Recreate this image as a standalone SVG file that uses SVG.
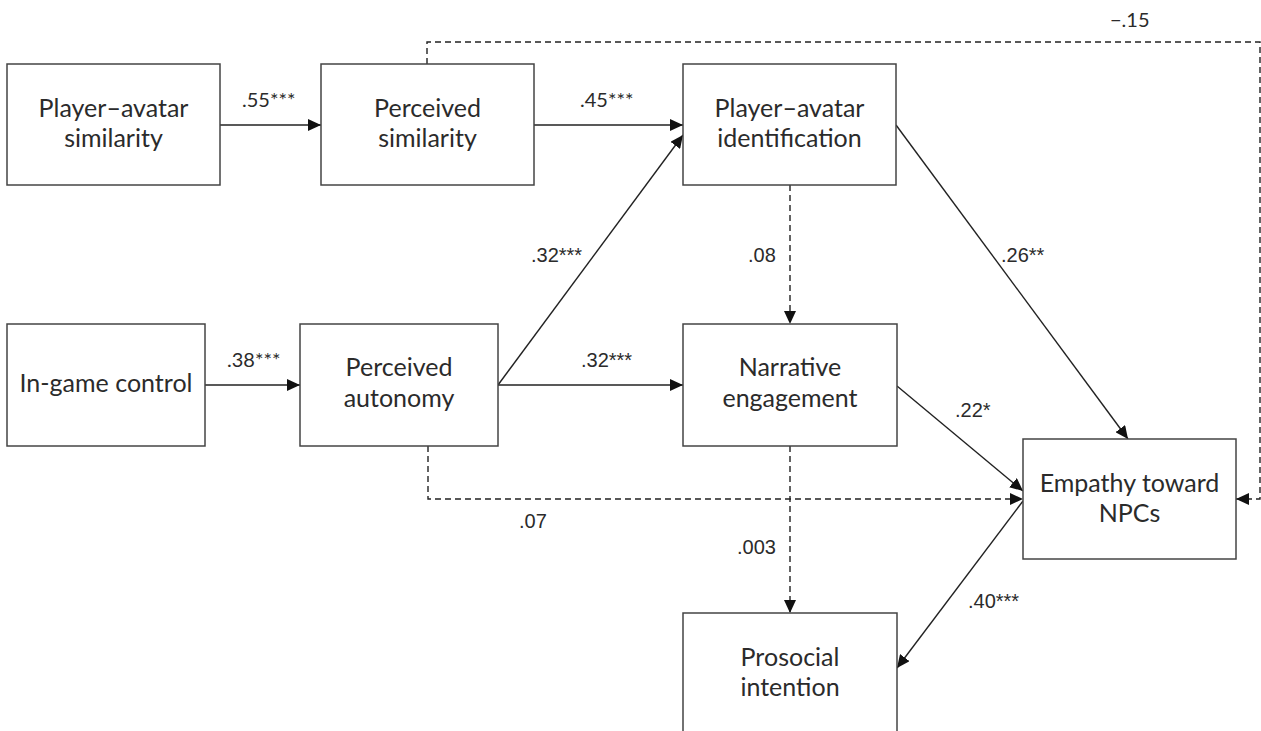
<svg xmlns="http://www.w3.org/2000/svg" width="1261" height="731" viewBox="0 0 1261 731">
<style>
.box{fill:#fff;stroke:#444;stroke-width:1.5}
.t{font-family:Lato,"Liberation Sans",sans-serif;font-size:25px;fill:#2b2b2b;text-anchor:middle}
.ln{fill:none;stroke:#222;stroke-width:1.4}
.d{stroke-dasharray:6 4}
.l1{font-family:Lato,"Liberation Sans",sans-serif;font-size:20px;fill:#2b2b2b}
.l2{font-family:"Liberation Sans",Arial,sans-serif;font-size:20px;fill:#2b2b2b}
</style>
<defs>
<marker id="ah" markerUnits="userSpaceOnUse" markerWidth="14" markerHeight="12" refX="13" refY="6" orient="auto">
<path d="M0,0 L13,6 L0,12 Z" fill="#111"/>
</marker>
</defs>
<g id="connectors">
<line class="ln" x1="220" y1="125" x2="321" y2="125" marker-end="url(#ah)"/>
<line class="ln" x1="534" y1="125" x2="683" y2="125" marker-end="url(#ah)"/>
<line class="ln" x1="205" y1="385" x2="300" y2="385" marker-end="url(#ah)"/>
<line class="ln" x1="498" y1="385" x2="683" y2="385" marker-end="url(#ah)"/>
<line class="ln" x1="498" y1="385" x2="683" y2="135" marker-end="url(#ah)"/>
<line class="ln d" x1="790" y1="185" x2="790" y2="324" marker-end="url(#ah)"/>
<line class="ln" x1="896" y1="125" x2="1128" y2="439" marker-end="url(#ah)"/>
<line class="ln" x1="897" y1="386" x2="1023" y2="491" marker-end="url(#ah)"/>
<polyline class="ln d" points="428,446 428,499 1023,499" marker-end="url(#ah)"/>
<line class="ln" x1="1023" y1="501" x2="897" y2="668" marker-end="url(#ah)"/>
<line class="ln d" x1="790" y1="446" x2="790" y2="613" marker-end="url(#ah)"/>
<polyline class="ln d" points="427,64 427,42 1260,42 1260,499 1236,499" marker-end="url(#ah)"/>
</g>
<g id="labels">
<text class="l1" x="242" y="107">.55***</text>
<text class="l1" x="580" y="107">.45***</text>
<text class="l1" x="1110" y="27">−.15</text>
<text class="l1" x="227" y="367">.38***</text>
<text class="l2" x="531" y="262">.32***</text>
<text class="l2" x="748" y="262">.08</text>
<text class="l2" x="581" y="367">.32***</text>
<text class="l2" x="1001" y="262">.26**</text>
<text class="l2" x="955" y="417">.22*</text>
<text class="l2" x="519" y="528">.07</text>
<text class="l2" x="737" y="554">.003</text>
<text class="l2" x="968" y="608">.40***</text>
</g>
<g id="n1"><rect class="box" x="7" y="64" width="213" height="121"/><text class="t" x="113.5" y="117">Player–avatar</text><text class="t" x="113.5" y="147">similarity</text></g>
<g id="n2"><rect class="box" x="321" y="64" width="213" height="121"/><text class="t" x="427.5" y="117">Perceived</text><text class="t" x="427.5" y="147">similarity</text></g>
<g id="n3"><rect class="box" x="683" y="64" width="213" height="121"/><text class="t" x="789.5" y="117">Player–avatar</text><text class="t" x="789.5" y="147">identification</text></g>
<g id="n4"><rect class="box" x="7" y="324" width="198" height="122"/><text class="t" x="106" y="392">In-game control</text></g>
<g id="n5"><rect class="box" x="300" y="324" width="198" height="122"/><text class="t" x="399" y="376">Perceived</text><text class="t" x="399" y="407">autonomy</text></g>
<g id="n6"><rect class="box" x="683" y="324" width="214" height="122"/><text class="t" x="790" y="376">Narrative</text><text class="t" x="790" y="407">engagement</text></g>
<g id="n7"><rect class="box" x="1023" y="439" width="213" height="120"/><text class="t" x="1129.5" y="492">Empathy toward</text><text class="t" x="1129.5" y="522">NPCs</text></g>
<g id="n8"><rect class="box" x="683" y="613" width="214" height="130"/><text class="t" x="790" y="666">Prosocial</text><text class="t" x="790" y="696">intention</text></g>
</svg>
